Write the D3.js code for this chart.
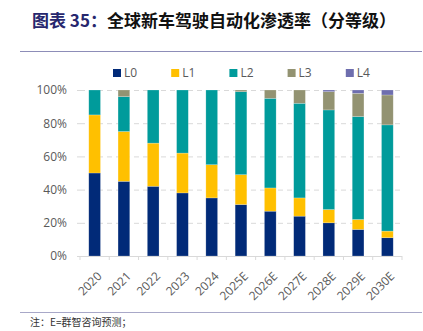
<!DOCTYPE html>
<html>
<head>
<meta charset="utf-8">
<title>全球新车驾驶自动化渗透率</title>
<script src="https://cdn.jsdelivr.net/npm/d3@7/dist/d3.min.js"></script>
<style>
body { margin:0; background:#fff; font-family:"Noto Sans CJK SC","Noto Sans",sans-serif; }
.grid line { stroke:#d9d9d9; stroke-dasharray:5,4; }
.grid path { stroke-width:0; }
</style>
</head>
<body>
<svg id="chart" width="423" height="331"></svg>
<script>
// years and penetration shares (%) by level
var years = ["2020","2021","2022","2023","2024","2025E","2026E","2027E","2028E","2029E","2030E"]
var levels = ["L0","L1","L2","L3","L4"]
var L0 = [50,45,42,38,35,31,27,24,20,16,11]
var L1 = [35,30,26,24,20,18,14,11,8,6,4]
var L2 = [15,21,32,38,45,50,54,57,60,62,64]
var L3 = [0,4,0,0,0,1,5,8,11,14,18]
var L4 = [0,0,0,0,0,0,0,0,1,2,3]
var yTicks = [0,20,40,60,80,100]
var colors = ["#012a78","#ffc000","#009b9b","#939372","#6e6eae"]

var svg = d3.select("#chart")

//---title block---
var title = svg.append("text")
  .attr("x",32).attr("y",27)
  .attr("font-size","17px").attr("font-weight","bold")
title.append("tspan").attr("fill","#27276e").text("图表 35：")
title.append("tspan").attr("fill","#111").text("全球新车驾驶自动化渗透率（分等级）")

svg.append("line").attr("x1",20).attr("x2",422).attr("y1",51.5).attr("y2",51.5)
  .attr("stroke","#8d8db8").attr("stroke-width",1.2)
svg.append("line").attr("x1",20).attr("x2",422).attr("y1",312.5).attr("y2",312.5)
  .attr("stroke","#a8a8c8").attr("stroke-width",1.2)
svg.append("text").attr("x",30).attr("y",326)
  .attr("font-size","10px").attr("fill","#333")
  .text("注：E=群智咨询预测；")

//---scales---
var plotL=80, plotR=402, plotT=90, plotB=256
var x = d3.scaleBand().domain(years).range([plotL,plotR]).paddingInner(0.6).paddingOuter(0.3)
var y = d3.scaleLinear().domain([0,100]).range([plotB,plotT])

// gridlines
svg.append("g").attr("class","grid")
  .attr("transform","translate("+plotL+",0)")
  .call(d3.axisLeft(y).tickValues(yTicks.slice(1)).tickSize(-(plotR-plotL)).tickFormat(""))

// stacked bars
var rows = years.map(function(yr,i){
  return {year:yr, L0:L0[i], L1:L1[i], L2:L2[i], L3:L3[i], L4:L4[i]}
})
var stack = d3.stack().keys(levels)(rows)

svg.append("g").selectAll("g").data(stack).join("g")
  .attr("fill",function(d,i){ return colors[i] })
  .selectAll("rect").data(function(d){ return d.filter(function(p){ return p[1]-p[0]>0 }) }).join("rect")
  .attr("x",function(d){ return x(d.data.year) })
  .attr("width",x.bandwidth())
  .attr("y",function(d){ return y(d[1]) })
  .attr("height",function(d){ return y(d[0])-y(d[1]) })
  .attr("stroke","#ffffff").attr("stroke-opacity",0.35).attr("stroke-width",0.6)

// y axis
var yAxis = svg.append("g").attr("transform","translate("+plotL+",0)")
  .call(d3.axisLeft(y).tickValues(yTicks).tickSize(3).tickPadding(10).tickFormat(function(d){ return d+"%" }))
yAxis.select(".domain").remove()
yAxis.selectAll("line").attr("stroke","#d9d9d9")
yAxis.selectAll("text").attr("font-size","12px").attr("fill","#595959")
  .attr("font-family","'Open Sans','Noto Sans',sans-serif")

// x axis
var xAxis = svg.append("g").attr("transform","translate(0,"+plotB+")")
var edges = years.map(function(d){ return x(d)-x.step()*x.paddingInner()/2 })
edges.push(plotR)
xAxis.append("line").attr("x1",plotL).attr("x2",plotR).attr("y1",0.5).attr("y2",0.5).attr("stroke","#d9d9d9")
xAxis.selectAll(".tk").data(edges).join("line").attr("class","tk")
  .attr("x1",function(d){ return d }).attr("x2",function(d){ return d })
  .attr("y1",0).attr("y2",4).attr("stroke","#d9d9d9")
xAxis.selectAll(".lb").data(years).join("text").attr("class","lb")
  .attr("transform",function(d){ return "translate("+(x(d)+x.bandwidth()/2+2)+",15)rotate(-45)" })
  .attr("text-anchor","end").attr("dy","0.7em")
  .attr("font-size","12px").attr("fill","#595959")
  .attr("font-family","'Open Sans','Noto Sans',sans-serif")
  .text(function(d){ return d })

// legend
var legend = svg.append("g").selectAll("g").data(levels).join("g")
  .attr("transform",function(d,i){ return "translate("+(113+i*58.2)+",73)" })
legend.append("rect").attr("x",0).attr("y",-4).attr("width",8).attr("height",8)
  .attr("fill",function(d,i){ return colors[i] })
legend.append("text").attr("x",11).attr("dy","0.35em")
  .attr("font-size","12px").attr("fill","#595959")
  .attr("font-family","'Open Sans','Noto Sans',sans-serif")
  .text(function(d){ return d })
</script>
</body>
</html>
